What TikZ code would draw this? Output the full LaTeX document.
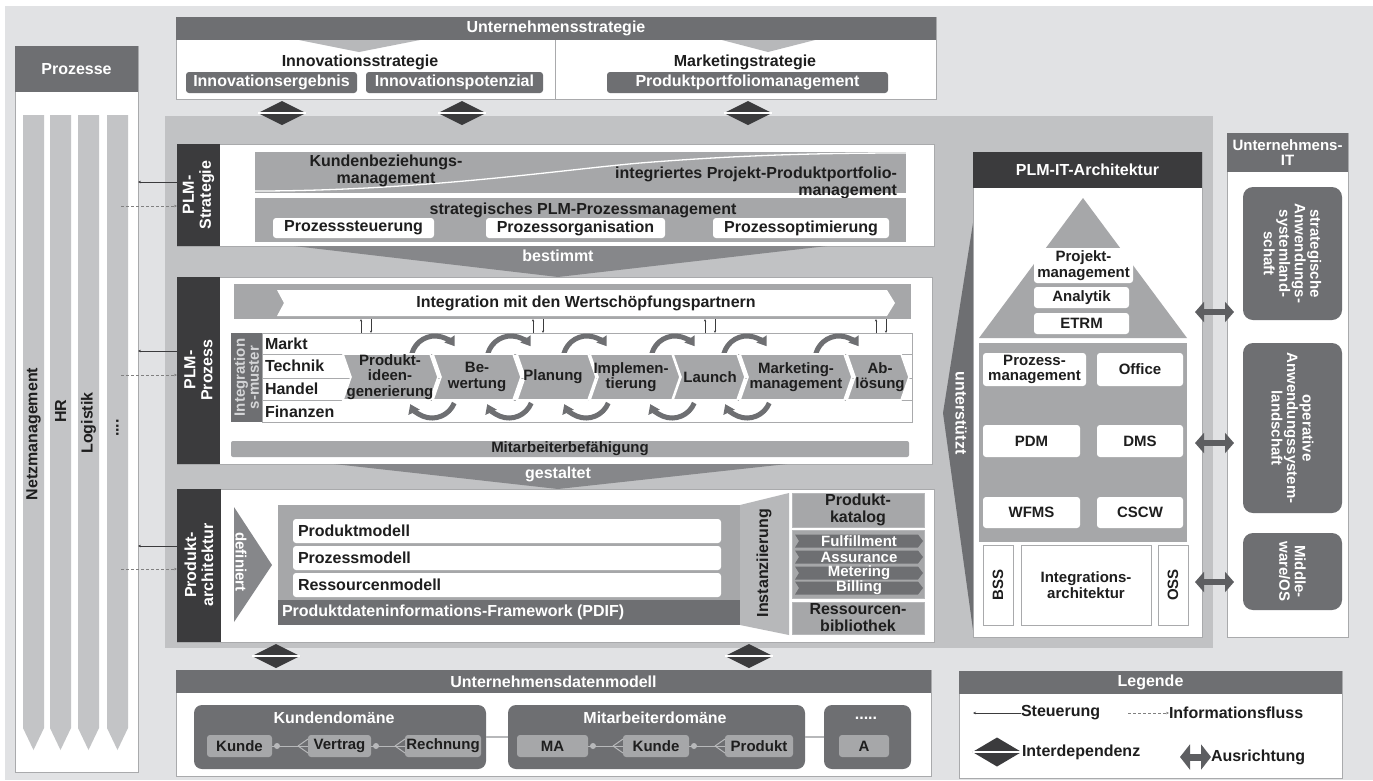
\documentclass[tikz,border=0pt]{standalone}
\usepackage{fontspec}
\setmainfont{Liberation Sans}
\usetikzlibrary{arrows.meta,shapes.geometric}

\definecolor{bgc}{HTML}{E1E2E4}
\definecolor{panelc}{HTML}{C1C2C4}
\definecolor{hdrc}{HTML}{6E6F72}
\definecolor{darkc}{HTML}{3B3B3D}
\definecolor{midc}{HTML}{A6A7A9}
\definecolor{flowc}{HTML}{86878A}
\definecolor{colc}{HTML}{C3C4C6}
\definecolor{linec}{HTML}{A9AAAC}
\definecolor{lightc}{HTML}{B7B8BA}
\definecolor{txtc}{HTML}{1E1E1E}
\definecolor{arrc}{HTML}{5D5E61}
\definecolor{pale}{HTML}{D4D5D7}

% box given by its corners: name, style, x1, y1, x2, y2, text
\newcommand\bx[7]{\node[#2,anchor=north west,minimum width={(#5)-(#3)},minimum height={(#6)-(#4)}] (#1) at (#3,#4) {#7};}

\begin{document}
\begin{tikzpicture}[x=1pt,y=-1pt,
  every node/.style={inner sep=0pt,outer sep=0pt,align=center},
  f16/.style={font=\bfseries\fontsize{16}{17}\selectfont},
  f15/.style={font=\bfseries\fontsize{15}{15.5}\selectfont},
  f14/.style={font=\bfseries\fontsize{15}{14}\selectfont},
  hdr/.style={fill=hdrc,text=white,f16},
  whitebox/.style={fill=white,draw=linec,line width=0.6pt},
  band/.style={fill=midc},
  wrnd/.style={fill=white,rounded corners=3pt,text=txtc,f16},
  wrnd15/.style={fill=white,rounded corners=3pt,text=txtc,f15},
  grnd/.style={fill=hdrc,rounded corners=3pt,text=white,f16},
  item/.style={fill=midc,rounded corners=3pt,text=txtc,f15},
  dom/.style={fill=hdrc,rounded corners=8pt},
  rowbox/.style={fill=white,draw=linec,line width=0.7pt},
  interdep/.style={diamond,fill=darkc,aspect=2,minimum width=48pt,minimum height=24pt},
  procchev/.style={fill=midc,draw=white,line width=1.6pt},
  cyc/.style={draw=hdrc,line width=5pt,-{Triangle[length=9pt,width=12pt]}},
  ausr/.style={draw=arrc,line width=6pt,{Triangle[length=9pt,width=20pt]}-{Triangle[length=9pt,width=20pt]}},
  steer/.style={draw=darkc,line width=0.6pt,-{Stealth[length=3pt,width=2.6pt]}},
  info/.style={draw=gray,line width=0.6pt,dash pattern=on 3pt off 2pt,-{Stealth[length=3pt,width=2.6pt]}},
  thinarr/.style={draw=darkc,line width=0.5pt,-{Stealth[length=2.5pt,width=2.2pt]}},
  erline/.style={draw=lightc,line width=1pt}
]
\useasboundingbox (0,0) rectangle (1373,780);
\fill[white] (0,0) rectangle (1373,780);
\fill[bgc] (5,6) rectangle (1373,780);

% ---------- Prozesse ----------
\bx{prozpanel}{whitebox}{15}{46}{138}{772}{}
\bx{prozhdr}{hdr}{15}{46}{138}{92}{Prozesse}
\foreach \a/\b in {23/44,50/71,78/99,107/128}
  \fill[colc] (\a,115) -- (\b,115) -- (\b,728) -- ({(\a+\b)/2},750) -- (\a,728) -- cycle;
\node[f16,rotate=90,text=txtc] (cnetz) at (33.5,434) {Netzmanagement};
\node[f16,rotate=90,text=txtc] (chr) at (60.5,411) {HR};
\node[f16,rotate=90,text=txtc] (clog) at (88.5,423) {Logistik};
\node[f16,rotate=90,text=txtc] (cdots) at (117.5,428) {....};

% ---------- Unternehmensstrategie ----------
\bx{ustrat}{whitebox}{176}{17}{936}{99}{}
\bx{ustrathdr}{hdr}{176}{17}{936}{40}{Unternehmensstrategie}
\fill[lightc] (299,40) -- (420,40) -- (359,52) -- cycle;
\fill[lightc] (722,40) -- (815,40) -- (768,52) -- cycle;
\coordinate (divx) at (555,0);
\draw[linec,line width=0.6pt] (ustrathdr.south -| divx) -- (ustrat.south -| divx);
\node[f16,text=txtc] (innov) at (360,62) {Innovationsstrategie};
\node[f16,text=txtc] (markt) at (745,62) {Marketingstrategie};
\bx{iergeb}{grnd}{186}{72}{357}{93}{Innovationsergebnis}
\bx{ipot}{grnd}{366}{72}{543}{93}{Innovationspotenzial}
\bx{ppm}{grnd}{607}{72}{888}{93}{Produktportfoliomanagement}

% ---------- PLM panel ----------
\bx{plmpanel}{fill=panelc}{165}{116}{1213}{648}{}

% ---------- PLM-Strategie ----------
\bx{plmS}{whitebox}{177}{144}{934}{246}{}
\bx{plmSbar}{fill=darkc}{177}{144}{220}{246}{}
\node[f16,text=white,rotate=90] (plmSlab) at (198.5,195) {PLM-\\Strategie};
\bx{sband1}{band}{255}{152}{906}{193}{}
\draw[white,line width=1.3pt] (255,191) .. controls (420,191) and (560,170) .. (640,163) .. controls (740,155) and (820,153) .. (906,153);
\node[f16,text=txtc] (kbm) at (386,171) {Kundenbeziehungs-\\management};
\node[f16,text=txtc,anchor=east,align=right] (ippm) at (897,183) {integriertes Projekt-Produktportfolio-\\management};
\bx{sband2}{band}{255}{198}{906}{242}{}
\node[f16,text=txtc] (spm) at (583,210) {strategisches PLM-Prozessmanagement};
\bx{psteu}{wrnd}{273}{218}{434}{238}{Prozesssteuerung}
\bx{porg}{wrnd}{486}{218}{665}{238}{Prozessorganisation}
\bx{popt}{wrnd}{713}{218}{889}{238}{Prozessoptimierung}
\fill[flowc] (294,246) -- (827,246) -- (558,277) -- cycle;
\node[f16,text=white] (bestimmt) at (558,256) {bestimmt};

% ---------- PLM-Prozess ----------
\bx{plmP}{whitebox}{177}{277}{932}{464}{}
\bx{plmPbar}{fill=darkc}{177}{277}{220}{464}{}
\node[f16,text=white,rotate=90] (plmPlab) at (198.5,370) {PLM-\\Prozess};
\bx{intband}{band}{234}{284}{911}{319}{}
\fill[white] (277,290) -- (887,290) -- (895,303) -- (887,316) -- (277,316) -- (284,303) -- cycle;
\node[f16,text=txtc] (intlab) at (586,303) {Integration mit den Wertschöpfungspartnern};
\bx{rmarkt}{rowbox}{262}{333}{912}{354}{}
\bx{rtech}{rowbox}{262}{354}{912}{378}{}
\bx{rhand}{rowbox}{262}{378}{912}{400}{}
\bx{rfin}{rowbox}{262}{400}{912}{422}{}
\foreach \u/\d [count=\i] in {361/371,533/543,705/715,876/886}{
  \coordinate (up\i) at (\u,0);
  \coordinate (dn\i) at (\d,0);
  \draw[thinarr] (rmarkt.north -| up\i) -- (intband.south -| up\i);
  \draw[thinarr] (intband.south -| dn\i) -- (rmarkt.north -| dn\i);
}
\bx{imbar}{fill=hdrc}{231}{333}{262}{422}{}
\node[f14,text=pale,rotate=90] (imlab) at (246.5,377.5) {Integration\\s-muster};
\node[f16,text=txtc,anchor=west] (lmarkt) at (265,343.5) {Markt};
\node[f16,text=txtc,anchor=west] (ltech) at (265,366) {Technik};
\node[f16,text=txtc,anchor=west] (lhand) at (265,389) {Handel};
\node[f16,text=txtc,anchor=west] (lfin) at (265,411.5) {Finanzen};
% cycle arrows between the phases
\foreach \cx in {435,511,587,675,747,839}
  \draw[cyc] (\cx,360) ++(-165:24) arc[start angle=-165,end angle=-35,radius=24];
\foreach \cx in {432,509,586,672,747}
  \draw[cyc] (\cx,394) ++(22:24) arc[start angle=22,end angle=155,radius=24];
% phases
\foreach \l/\r in {343/430,433/513,517/588,590/672,673/737,740/844,847/901}
  \path[procchev] (\l,354) -- (\r,354) -- (\r+8,377) -- (\r,400) -- (\l,400) -- (\l+8,377) -- cycle;
\node[f15,text=txtc] (ph1) at (390,377) {Produkt-\\ideen-\\generierung};
\node[f15,text=txtc] (ph2) at (477,377) {Be-\\wertung};
\node[f15,text=txtc] (ph3) at (553,377) {Planung};
\node[f15,text=txtc] (ph4) at (631,377) {Implemen-\\tierung};
\node[f15,text=txtc] (ph5) at (710,377) {Launch};
\node[f15,text=txtc] (ph6) at (796,377) {Marketing-\\management};
\node[f15,text=txtc] (ph7) at (880,377) {Ab-\\lösung};
\bx{mab}{band,rounded corners=2pt,text=txtc,f15}{231}{441}{909}{457}{Mitarbeiterbefähigung}
\fill[flowc] (334,464) -- (787,464) -- (558,489) -- cycle;
\node[f16,text=white] (gestaltet) at (558,474) {gestaltet};

% ---------- Produktarchitektur ----------
\bx{parch}{whitebox}{177}{489}{934}{642}{}
\bx{parchbar}{fill=darkc}{177}{489}{221}{642}{}
\node[f16,text=white,rotate=90] (parchlab) at (199,565) {Produkt-\\architektur};
\fill[flowc] (234,507) -- (272,565) -- (234,622) -- cycle;
\node[f15,text=white,rotate=-90] (definiert) at (241,562) {definiert};
\bx{pdifpanel}{band}{278}{505}{740}{625}{}
\bx{pdif}{fill=hdrc}{278}{600}{740}{625}{}
\node[f16,text=white,anchor=west] (pdiflab) at (282,612.5) {Produktdateninformations-Framework (PDIF)};
\bx{pmod}{wrnd}{293}{519}{721}{543}{}
\bx{prmod}{wrnd}{293}{546}{721}{570}{}
\bx{rmod}{wrnd}{293}{573}{721}{597}{}
\node[f16,text=txtc,anchor=west] (pmodlab) at (298,531) {Produktmodell};
\node[f16,text=txtc,anchor=west] (prmodlab) at (298,558) {Prozessmodell};
\node[f16,text=txtc,anchor=west] (rmodlab) at (298,585) {Ressourcenmodell};
\fill[lightc] (740,505) -- (789,493) -- (789,635) -- (740,625) -- cycle;
\node[f16,text=txtc,rotate=90] (inst) at (764,563) {Instanziierung};
\bx{pkat}{band,draw=lightc,line width=0.6pt,text=txtc,f16}{792}{493}{924}{527}{Produkt-\\katalog}
\bx{opsbox}{band,draw=lightc,line width=0.6pt}{792}{530}{924}{598}{}
\foreach \t/\y in {Fulfillment/541,Assurance/557,Metering/573,Billing/588}{
  \fill[hdrc] (795,\y-6.5) -- (918,\y-6.5) -- (923,\y) -- (918,\y+6.5) -- (795,\y+6.5) -- (799,\y) -- cycle;
  \node[f15,text=white] (op\t) at (859,\y) {\t};
}
\bx{rbib}{band,draw=lightc,line width=0.6pt,text=txtc,f16}{792}{602}{924}{634}{Ressourcen-\\bibliothek}

% ---------- PLM-IT-Architektur ----------
\fill[hdrc] (973,223) -- (943,413) -- (973,630) -- cycle;
\node[f16,text=white,rotate=-90] (unterst) at (961,413) {unterstützt};
\bx{plmit}{whitebox}{973}{152}{1202}{637}{}
\bx{plmithdr}{fill=darkc,text=white,f16}{973}{152}{1202}{188}{PLM-IT-Architektur}
\fill[midc] (1083,198) -- (1187,338) -- (979,338) -- cycle;
\bx{projm}{wrnd15}{1034}{248}{1133}{283}{Projekt-\\management}
\bx{analytik}{wrnd15}{1034}{287}{1129}{308}{Analytik}
\bx{etrm}{wrnd15}{1034}{313}{1129}{334}{ETRM}
\bx{itmid}{band}{979}{343}{1187}{542}{}
\bx{prozm}{wrnd15}{983}{353}{1086}{386}{Prozess-\\management}
\bx{office}{wrnd15}{1097}{353}{1183}{386}{Office}
\bx{pdm}{wrnd15}{983}{425}{1080}{457}{PDM}
\bx{dms}{wrnd15}{1097}{425}{1183}{457}{DMS}
\bx{wfms}{wrnd15}{983}{497}{1080}{528}{WFMS}
\bx{cscw}{wrnd15}{1097}{497}{1183}{528}{CSCW}
\bx{bss}{rowbox}{983}{545}{1013}{625}{}
\bx{intarch}{rowbox,text=txtc,f15}{1021}{545}{1151}{625}{Integrations-\\architektur}
\bx{oss}{rowbox}{1158}{545}{1188}{625}{}
\node[f15,text=txtc,rotate=90] (bsslab) at (bss.center) {BSS};
\node[f15,text=txtc,rotate=90] (osslab) at (oss.center) {OSS};

% ---------- Unternehmens-IT ----------
\bx{uit}{whitebox}{1227}{133}{1348}{637}{}
\bx{uithdr}{fill=hdrc,text=white,f15}{1227}{133}{1348}{172}{Unternehmens-\\IT}
\bx{sas}{dom,rounded corners=10pt}{1243}{187}{1342}{320}{}
\bx{oas}{dom,rounded corners=10pt}{1243}{343}{1342}{513}{}
\bx{mos}{dom,rounded corners=10pt}{1243}{533}{1342}{610}{}
\node[f15,text=white,rotate=-90] (saslab) at (sas.center) {strategische\\Anwendungs-\\systemland-\\schaft};
\node[f15,text=white,rotate=-90] (oaslab) at (oas.center) {operative\\Anwendungssystem-\\landschaft};
\node[f15,text=white,rotate=-90] (moslab) at (mos.center) {Middle-\\ware/OS};
\foreach \y [count=\i] in {312,443,582}{
  \coordinate (al\i) at (1195,\y);
  \coordinate (ar\i) at (1234,\y);
  \draw[ausr] (al\i) -- (ar\i);
}

% ---------- interdependencies ----------
\foreach \x/\y [count=\i] in {282/113,462/113,748/113,276/656,749/656}{
  \node[interdep] (dia\i) at (\x,\y) {};
  \draw[white,line width=1.2pt] (dia\i.west) -- (dia\i.east);
}

% ---------- steering and information flow ----------
\foreach \ys/\yi/\bar [count=\i] in {182/206/plmSbar,351/375/plmPbar,546/569/parchbar}{
  \coordinate (ys\i) at (0,\ys);
  \coordinate (yi\i) at (121,\yi);
  \draw[steer] (\bar.west |- ys\i) -- (prozpanel.east |- ys\i);
  \draw[info] (yi\i) -- (\bar.west |- yi\i);
}

% ---------- Unternehmensdatenmodell ----------
\bx{udm}{whitebox}{176}{670}{931}{776}{}
\bx{udmhdr}{hdr}{176}{670}{931}{693}{Unternehmensdatenmodell}
\bx{kd}{dom}{194}{705}{486}{769}{}
\bx{md}{dom}{508}{705}{805}{769}{}
\bx{xd}{dom}{824}{705}{911}{769}{}
\draw[erline,line width=2pt] (kd.east) -- (md.west);
\draw[erline,line width=2pt] (md.east) -- (xd.west);
\node[f16,text=white] (kdlab) at (334,718) {Kundendomäne};
\node[f16,text=white] (mdlab) at (655,718) {Mitarbeiterdomäne};
\node[f16,text=white] (xdlab) at (866,718) {.....};
\bx{ekunde}{item}{207}{735}{272}{757}{Kunde}
\bx{evertrag}{item}{308}{735}{371}{757}{Vertrag}
\bx{erechnung}{item}{405}{735}{481}{757}{Rechnung}
\bx{ema}{item}{517}{735}{588}{757}{MA}
\bx{ekunde2}{item}{623}{735}{689}{757}{Kunde}
\bx{eprodukt}{item}{725}{735}{793}{757}{Produkt}
\bx{ea}{item}{839}{735}{889}{757}{A}
\foreach \a/\b in {ekunde/evertrag,evertrag/erechnung,ema/ekunde2,ekunde2/eprodukt}{
  \draw[erline] (\a.east) -- (\b.west);
  \fill[lightc] ([xshift=5pt]\a.east) circle[radius=3];
  \draw[erline] ([xshift=-10pt]\b.west) -- ([yshift=7pt]\b.west);
  \draw[erline] ([xshift=-10pt]\b.west) -- ([yshift=-7pt]\b.west);
}

% ---------- Legende ----------
\bx{leg}{whitebox}{959}{671}{1342}{778}{}
\bx{leghdr}{hdr}{959}{671}{1342}{694}{Legende}
\node[f16,text=txtc,anchor=west] (lsteu) at (1021,713) {Steuerung};
\node[f16,text=txtc,anchor=west] (linfo) at (1169,713) {Informationsfluss};
\coordinate (lsteuend) at (973,713);
\coordinate (linfostart) at (1128,713);
\draw[steer] (lsteu.west) -- (lsteuend);
\draw[info] (linfostart) -- (linfo.west);
\node[interdep,minimum width=49pt,minimum height=29pt] (legdia) at (997,752) {};
\draw[white,line width=1.2pt] (legdia.west) -- (legdia.east);
\node[f16,text=txtc,anchor=west] (linter) at (1022,752) {Interdependenz};
\node[f16,text=txtc,anchor=west] (lausr) at (1211,757) {Ausrichtung};
\coordinate (lausrstart) at (1180,757);
\draw[ausr,line width=7pt,{Triangle[length=10pt,width=25pt]}-{Triangle[length=10pt,width=25pt]}] (lausrstart) -- (lausr.west);
\end{tikzpicture}
\end{document}
